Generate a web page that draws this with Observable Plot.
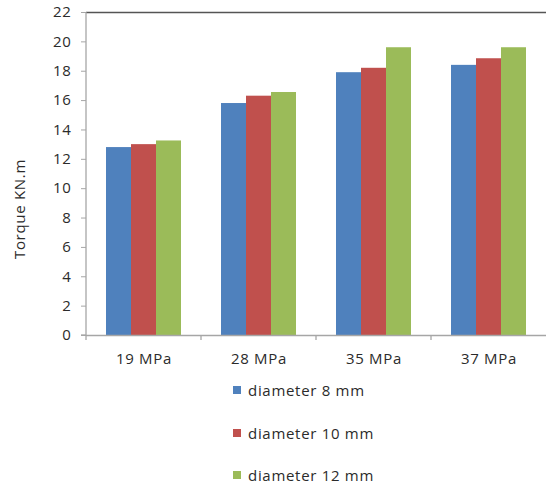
<!DOCTYPE html>
<html>
<head>
<meta charset="utf-8">
<script src="https://cdn.jsdelivr.net/npm/d3@7"></script>
<script src="https://cdn.jsdelivr.net/npm/@observablehq/plot@0.6"></script>
<style>
  html, body { margin: 0; padding: 0; background: #fff; }
  #chart { position: relative; width: 546px; height: 484px; font-family: "Open Sans", sans-serif; }
  #chart svg text { font-family: "Open Sans", sans-serif; letter-spacing: 0.7px; }
  #legend { position: absolute; left: 233px; top: 369px; font-size: 15px; color: #2b2b2b; letter-spacing: 0.7px; }
  #legend .row { height: 42.5px; display: flex; align-items: center; }
  #legend .sw { width: 8px; height: 8px; margin-right: 7px; }
</style>
</head>
<body>
<div id="chart"></div>
<script>
const categories = ["19 MPa", "28 MPa", "35 MPa", "37 MPa"];
const series = ["diameter 8 mm", "diameter 10 mm", "diameter 12 mm"];
const d8 = [12.8, 15.8, 17.9, 18.4];
const d10 = [13.0, 16.3, 18.2, 18.85];
const d12 = [13.25, 16.55, 19.6, 19.6];
const colors = ["#4F81BD", "#C0504D", "#9BBB59"];
const yTicks = [0, 2, 4, 6, 8, 10, 12, 14, 16, 18, 20, 22];
const yLabel = "Torque KN.m";

const seriesValues = [d8, d10, d12];
const data = [];
categories.forEach((c, i) => {
  series.forEach((s, j) => data.push({cat: c, series: s, value: seriesValues[j][i]}));
});

const plot = Plot.plot({
  width: 546,
  height: 372,
  marginTop: 12,
  marginBottom: 37,
  marginLeft: 85,
  marginRight: 0,
  style: {fontSize: "15px", color: "#2b2b2b", background: "#fff"},
  fx: {domain: categories, paddingInner: 0, paddingOuter: 0, label: null},
  x: {domain: series, paddingInner: 0, paddingOuter: 0.76, axis: null},
  y: {domain: [0, 22], label: null},
  color: {domain: series, range: colors},
  marks: [
    Plot.barY(data, {fx: "cat", x: "series", y: "value", fill: "series"}),
    Plot.ruleY([22], {stroke: "#555", strokeWidth: 1.5}),
    Plot.ruleY([0], {stroke: "#a6a6a6", strokeWidth: 1.3}),
    Plot.axisY({ticks: yTicks, tickSize: 5, tickPadding: 10, stroke: "#a6a6a6", fill: "#2b2b2b", fontSize: 15, label: null}),
    Plot.axisFx({anchor: "bottom", tickSize: 0, tickPadding: 18, fontSize: 15, fill: "#2b2b2b", label: null})
  ]
});

document.getElementById("chart").appendChild(plot);

// boundary ticks, vertical axis line and axis title via the library's scales
const fx = plot.scale("fx");
const y = plot.scale("y");
const svg = d3.select(plot);
const g = svg.append("g").attr("stroke", "#a6a6a6").attr("stroke-width", 1.3);
const x0 = fx.apply(categories[0]);
g.append("line").attr("x1", x0).attr("x2", x0).attr("y1", y.apply(0)).attr("y2", y.apply(22));
g.append("line").attr("x1", x0 - 5).attr("x2", x0).attr("y1", y.apply(0)).attr("y2", y.apply(0));
categories.forEach((c) => {
  const xb = fx.apply(c);
  g.append("line").attr("x1", xb).attr("x2", xb).attr("y1", y.apply(0)).attr("y2", y.apply(0) + 5);
});
svg.append("text")
  .attr("transform", "translate(18.5,209) rotate(-90)")
  .attr("text-anchor", "middle")
  .attr("dominant-baseline", "central")
  .attr("fill", "#2b2b2b")
  .attr("font-size", 15)
  .text(yLabel);

const legend = d3.select("#chart").append("div").attr("id", "legend");
series.forEach((s, i) => {
  const row = legend.append("div").attr("class", "row");
  row.append("div").attr("class", "sw").style("background", colors[i]);
  row.append("span").text(s);
});
</script>
</body>
</html>
